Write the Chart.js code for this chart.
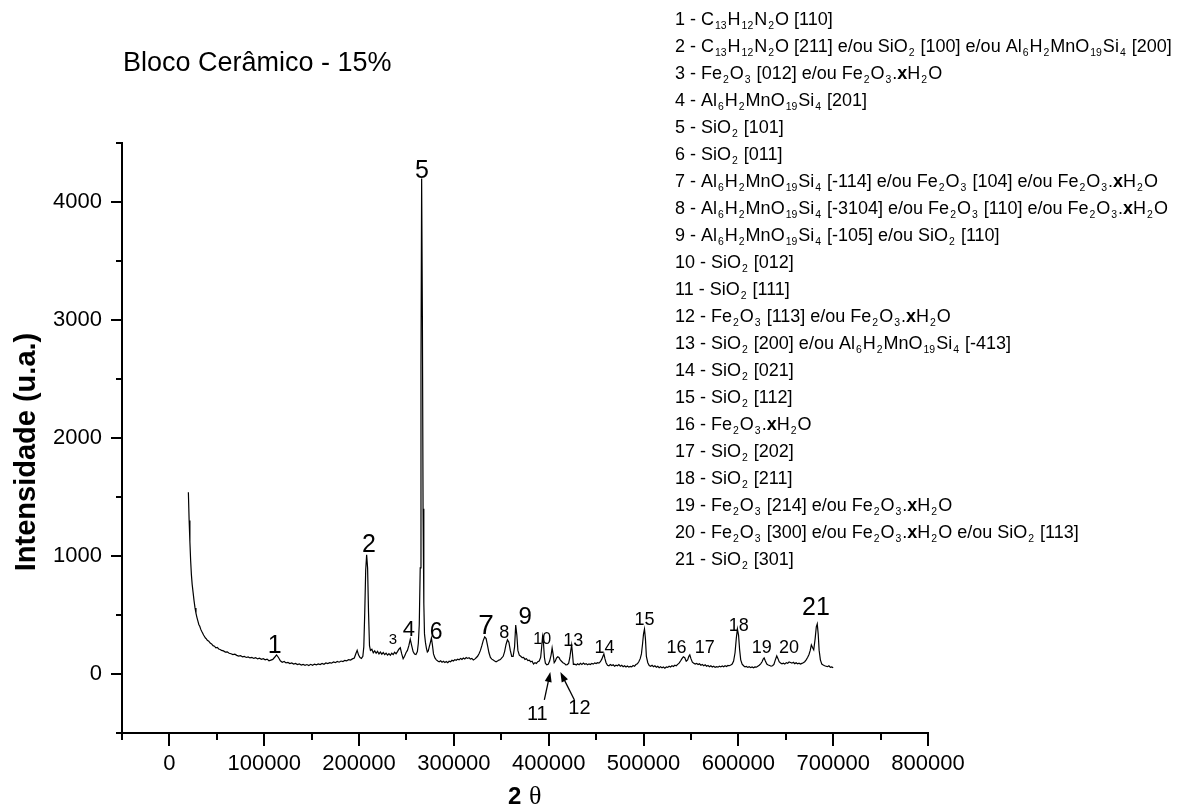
<!DOCTYPE html>
<html><head><meta charset="utf-8">
<script src="https://cdn.jsdelivr.net/npm/chart.js@4.4.1/dist/chart.umd.min.js"></script>
<style>html,body{margin:0;padding:0;background:#fff;}canvas{display:block;}</style>
</head><body>
<canvas id="c" width="1183" height="807" style="width:1183px;height:807px"></canvas>
<script>
const FONT = '"Liberation Sans", Arial, sans-serif';

// ---- axis ticks ----
const xTickValues = [0, 100000, 200000, 300000, 400000, 500000, 600000, 700000, 800000];
const xTickLabels = ['0', '100000', '200000', '300000', '400000', '500000', '600000', '700000', '800000'];
const xMinorTicks = [-50000, 50000, 150000, 250000, 350000, 450000, 550000, 650000, 750000];
const yTickValues = [0, 1000, 2000, 3000, 4000];
const yTickLabels = ['0', '1000', '2000', '3000', '4000'];
const yMinorTicks = [-500, 500, 1500, 2500, 3500, 4500];

// ---- measured pattern: [2θ, intensity] ----
const scan = [
[20000,1540],[20800,1300],[21600,1120],[22400,960],[23200,840],[24000,760],[25000,690],[26000,620],[27000,560],[28000,515],
[29000,480],[30000,450],[31000,420],[32000,405],[33000,380],[34000,362],[35000,348],[36000,330],[37000,318],[38000,305],
[39000,298],[40000,285],[41500,278],[43000,262],[44500,255],[46000,240],[47500,236],[49000,222],[50500,226],[52000,212],
[53500,208],[55000,200],[57000,196],[59000,186],[61000,188],[63000,176],[65000,172],[67000,165],[69000,168],[71000,158],
[73000,152],[75000,156],[77000,146],[79000,150],[81000,140],[83000,144],[85000,136],[87000,140],[89000,132],[91000,138],
[93000,128],[95000,134],[97000,125],[99000,130],[101000,120],[103000,126],[105000,112],[107000,118],[109000,124],[111000,142],
[113000,162],[115000,140],[117000,112],[119000,100],[121000,106],[123000,94],[125000,98],[127000,88],[129000,94],[131000,84],
[133000,90],[135000,80],[137000,86],[139000,76],[141000,82],[143000,74],[145000,80],[147000,72],[149000,82],[151000,74],
[153000,84],[155000,78],[157000,86],[159000,80],[161000,90],[163000,82],[165000,94],[167000,88],[169000,96],[171000,92],
[173000,102],[175000,96],[177000,106],[179000,100],[181000,110],[183000,106],[185000,116],[187000,112],[189000,122],[191000,118],
[193000,128],[195000,136],[196500,170],[198000,200],[199500,160],[201000,140],[202500,132],[204000,150],[205000,230],[206000,520],
[207000,880],[208000,1010],[209000,900],[210000,520],[211000,240],[212000,200],[213500,210],[215000,180],[216500,196],[218000,176],
[219500,192],[221000,170],[222500,186],[224000,168],[225500,182],[227000,164],[228500,176],[230000,160],[231500,172],[233000,158],
[234500,176],[236000,164],[237500,184],[239000,172],[240500,190],[242000,210],[243500,222],[245000,170],[246500,130],[248000,150],
[249500,180],[251000,200],[252500,240],[254000,295],[255500,240],[257000,190],[258500,170],[260000,165],[261500,190],[262500,260],
[263500,420],[264500,900],[265300,2600],[266000,4200],[266800,3000],[267500,1400],[268300,600],[269000,340],[270000,268],[271000,220],
[272000,186],[273000,195],[274000,230],[275000,260],[276300,305],[277300,250],[278500,170],[280000,136],[281500,120],[283000,110],
[284500,104],[286000,112],[287500,100],[289000,108],[290500,98],[292000,106],[293500,96],[295000,108],[296500,104],[298000,116],
[299500,110],[301000,122],[302500,116],[304000,126],[305500,120],[307000,132],[308500,124],[310000,136],[311500,128],[313000,140],
[314500,132],[316000,138],[317500,126],[319000,132],[320500,118],[322000,126],[323500,138],[325000,150],[326500,172],[328000,200],
[329500,240],[331000,285],[332500,315],[334000,300],[335500,240],[337000,180],[338500,140],[340000,126],[341500,118],[343000,110],
[344500,104],[346000,110],[347500,118],[349000,122],[350500,136],[352000,150],[353500,190],[355000,250],[356500,290],[358000,270],
[359500,200],[361000,150],[362500,150],[364000,230],[365200,415],[366400,330],[367500,200],[369000,160],[370500,150],[372000,138],
[373500,140],[375000,124],[376500,130],[378000,114],[379500,118],[381000,104],[382500,108],[384000,84],[385500,96],[387000,90],
[388500,104],[390000,110],[391500,140],[392500,220],[393500,315],[394500,260],[395500,140],[396500,92],[398000,78],[399500,82],
[401000,110],[402500,160],[403600,220],[404600,170],[405800,96],[407000,110],[408200,135],[409500,146],[410800,140],[412000,122],
[413500,108],[415000,96],[416500,90],[418000,78],[419500,80],[421000,90],[422300,140],[423300,200],[424200,246],[425000,180],
[426000,82],[427500,84],[429000,76],[430500,86],[432000,78],[433500,90],[435000,80],[436500,92],[438000,82],[439500,88],
[441000,78],[442500,86],[444000,80],[445500,90],[447000,84],[448500,94],[450000,88],[451500,96],[453000,92],[454500,104],
[456000,126],[457200,150],[458200,170],[459300,130],[460500,96],[462000,74],[463500,70],[465000,80],[466500,72],[468000,78],
[469500,66],[471000,74],[472500,70],[474000,80],[475500,66],[477000,74],[478500,62],[480000,70],[481500,60],[483000,68],
[484500,58],[486000,64],[487500,60],[489000,72],[490500,66],[492000,80],[493500,86],[495000,104],[496500,130],[497800,170],
[498900,250],[500000,340],[501000,381],[502000,300],[503000,150],[504500,96],[506000,72],[507500,66],[509000,74],[510500,62],
[512000,70],[513500,58],[515000,66],[516500,54],[518000,62],[519500,52],[521000,60],[522500,50],[524000,60],[525500,56],
[527000,66],[528500,60],[530000,70],[531500,64],[533000,74],[534500,70],[536000,82],[537500,92],[539000,110],[540500,130],
[542000,146],[543500,138],[545000,108],[546500,120],[547800,150],[548800,162],[550000,130],[551500,100],[553000,92],[554500,84],
[556000,90],[557500,80],[559000,86],[560500,74],[562000,80],[563500,70],[565000,78],[566500,66],[568000,72],[569500,62],
[571000,70],[572500,60],[574000,66],[575500,56],[577000,62],[578500,58],[580000,66],[581500,60],[583000,68],[584500,62],
[586000,70],[587500,64],[589000,72],[590500,70],[592000,76],[593500,84],[595000,110],[596500,180],[597800,300],[599000,381],
[600200,330],[601300,210],[602500,120],[604000,84],[605500,70],[607000,60],[608500,64],[610000,56],[611500,62],[613000,54],
[614500,60],[616000,52],[617500,60],[619000,58],[620500,66],[622000,74],[623500,86],[625000,104],[626200,126],[627200,136],
[628500,110],[630000,84],[631500,76],[633000,72],[634500,66],[636000,70],[637500,82],[639000,120],[640500,153],[641800,130],
[643000,104],[644500,94],[646000,86],[647500,92],[649000,84],[650500,96],[652000,90],[653500,102],[655000,98],[656500,92],
[658000,100],[659500,88],[661000,96],[662500,86],[664000,92],[665500,84],[667000,90],[668500,96],[670000,104],[671500,120],
[673000,140],[674500,165],[675800,200],[677000,246],[678200,225],[679500,205],[681000,300],[682200,400],[683200,424],[684200,340],
[685200,200],[686500,120],[688000,84],[689500,76],[691000,70],[692500,66],[694000,62],[695500,70],[697000,56],[698500,60],
[700000,52]
];

// ---- peak numbering (placed in data units) ----
const peakText  = ['1','2','3','4','5','6','7','8','9','10','11','12','13','14','15','16','17','18','19','20','21'];
const peakX     = [111000,210400,235700,252600,266400,281200,334000,353000,375300,393200,388000,432400,426000,458800,501000,534900,564500,600400,624700,653300,681800];
const peakY     = [254,1110,297,390,4280,364,424,356,500,305,-330,-280,288,229,466,229,229,415,229,229,576];
const peakSize  = [25,25,15,22,25,23,28,18,24,16,20,20,18,18,18,18,18,18,18,18,25];
// arrows for 11 and 12: [tailX, tailY, headX, headY]
const arrows = [[395400,-220,401700,17],[427100,-220,412300,17]];

// ---- legend (phase assignments) ----
const legendLines = [
'1 - C_{13}H_{12}N_{2}O [110]',
'2 - C_{13}H_{12}N_{2}O [211] e/ou SiO_{2} [100] e/ou Al_{6}H_{2}MnO_{19}Si_{4} [200]',
'3 - Fe_{2}O_{3} [012] e/ou Fe_{2}O_{3}.*x*H_{2}O',
'4 - Al_{6}H_{2}MnO_{19}Si_{4} [201]',
'5 - SiO_{2} [101]',
'6 - SiO_{2} [011]',
'7 - Al_{6}H_{2}MnO_{19}Si_{4} [-114] e/ou Fe_{2}O_{3} [104] e/ou Fe_{2}O_{3}.*x*H_{2}O',
'8 - Al_{6}H_{2}MnO_{19}Si_{4} [-3104] e/ou Fe_{2}O_{3} [110] e/ou Fe_{2}O_{3}.*x*H_{2}O',
'9 - Al_{6}H_{2}MnO_{19}Si_{4} [-105] e/ou SiO_{2} [110]',
'10 - SiO_{2} [012]',
'11 - SiO_{2} [111]',
'12 - Fe_{2}O_{3} [113] e/ou Fe_{2}O_{3}.*x*H_{2}O',
'13 - SiO_{2} [200] e/ou Al_{6}H_{2}MnO_{19}Si_{4} [-413]',
'14 - SiO_{2} [021]',
'15 - SiO_{2} [112]',
'16 - Fe_{2}O_{3}.*x*H_{2}O',
'17 - SiO_{2} [202]',
'18 - SiO_{2} [211]',
'19 - Fe_{2}O_{3} [214] e/ou Fe_{2}O_{3}.*x*H_{2}O',
'20 - Fe_{2}O_{3} [300] e/ou Fe_{2}O_{3}.*x*H_{2}O e/ou SiO_{2} [113]',
'21 - SiO_{2} [301]'
];
const chartTitle = 'Bloco Cerâmico - 15%';
const yTitle = 'Intensidade (u.a.)';

function drawRich(ctx, str, x, base, size) {
  const subSize = size * 0.58;
  const re = /_\{([^}]*)\}|\*([^*]*)\*|([^_*]+)/g;
  let m, cx = x;
  ctx.textAlign = 'left';
  ctx.textBaseline = 'alphabetic';
  while ((m = re.exec(str)) !== null) {
    if (m[1] !== undefined) {
      ctx.font = subSize + 'px ' + FONT;
      cx += 1;
      ctx.fillText(m[1], cx, base + size * 0.22);
      cx += ctx.measureText(m[1]).width + 1;
    } else if (m[2] !== undefined) {
      ctx.font = 'bold ' + size + 'px ' + FONT;
      ctx.fillText(m[2], cx, base);
      cx += ctx.measureText(m[2]).width;
    } else {
      ctx.font = size + 'px ' + FONT;
      ctx.fillText(m[3], cx, base);
      cx += ctx.measureText(m[3]).width;
    }
  }
}

const overlay = {
  id: 'overlay',
  afterDraw(chart) {
    const ctx = chart.ctx, xs = chart.scales.x, ys = chart.scales.y, ca = chart.chartArea;
    ctx.save();
    ctx.strokeStyle = '#000';
    ctx.lineWidth = 2;
    ctx.beginPath();
    xTickValues.forEach(v => { const p = Math.round(xs.getPixelForValue(v)); ctx.moveTo(p, ca.bottom); ctx.lineTo(p, ca.bottom + 13); });
    xMinorTicks.forEach(v => { const p = Math.round(xs.getPixelForValue(v)); ctx.moveTo(p, ca.bottom); ctx.lineTo(p, ca.bottom + 7); });
    yTickValues.forEach(v => { const p = Math.round(ys.getPixelForValue(v)); ctx.moveTo(ca.left, p); ctx.lineTo(ca.left - 11, p); });
    yMinorTicks.forEach(v => { const p = Math.round(ys.getPixelForValue(v)); ctx.moveTo(ca.left, p); ctx.lineTo(ca.left - 6, p); });
    ctx.stroke();

    ctx.fillStyle = '#000';
    ctx.textAlign = 'center';
    ctx.textBaseline = 'alphabetic';
    peakText.forEach((t, i) => {
      ctx.font = peakSize[i] + 'px ' + FONT;
      ctx.fillText(t, xs.getPixelForValue(peakX[i]), ys.getPixelForValue(peakY[i]) + peakSize[i] * 0.358);
    });
    ctx.lineWidth = 1.3;
    arrows.forEach(a => {
      const x1 = xs.getPixelForValue(a[0]), y1 = ys.getPixelForValue(a[1]);
      const x2 = xs.getPixelForValue(a[2]), y2 = ys.getPixelForValue(a[3]);
      const ang = Math.atan2(y2 - y1, x2 - x1);
      ctx.beginPath(); ctx.moveTo(x1, y1); ctx.lineTo(x2 - 6 * Math.cos(ang), y2 - 6 * Math.sin(ang)); ctx.stroke();
      ctx.beginPath();
      ctx.moveTo(x2, y2);
      ctx.lineTo(x2 - 10 * Math.cos(ang) + 3.5 * Math.sin(ang), y2 - 10 * Math.sin(ang) - 3.5 * Math.cos(ang));
      ctx.lineTo(x2 - 10 * Math.cos(ang) - 3.5 * Math.sin(ang), y2 - 10 * Math.sin(ang) + 3.5 * Math.cos(ang));
      ctx.closePath(); ctx.fill();
    });
    ctx.textAlign = 'left';
    ctx.font = '27px ' + FONT;
    ctx.fillText(chartTitle, 123, 71);
    ctx.save();
    ctx.translate(35, 452);
    ctx.rotate(-Math.PI / 2);
    ctx.textAlign = 'center';
    ctx.font = 'bold 29px ' + FONT;
    ctx.fillText(yTitle, 0, 0);
    ctx.restore();
    ctx.textAlign = 'left';
    ctx.font = 'bold 24px ' + FONT;
    ctx.fillText('2', 508, 804);
    ctx.font = '26px "Liberation Serif", "DejaVu Serif", serif';
    ctx.fillText('θ', 529, 804);
    legendLines.forEach((s, i) => drawRich(ctx, s, 675, 19 + i * 27 + 18 * 0.358, 18));
    ctx.restore();
  }
};

new Chart(document.getElementById('c'), {
  type: 'scatter',
  data: { datasets: [{
    data: scan.map(p => ({ x: p[0], y: p[1] })),
    showLine: true, borderColor: '#000', borderWidth: 1.2, pointRadius: 0, tension: 0, fill: false
  }] },
  options: {
    responsive: false, animation: false, devicePixelRatio: 1,
    layout: { padding: { left: 0, top: 143, right: 255, bottom: 0 } },
    plugins: { legend: { display: false }, tooltip: { enabled: false } },
    scales: {
      x: {
        type: 'linear', min: -50000, max: 800000,
        afterBuildTicks: s => { s.ticks = xTickValues.map(v => ({ value: v })); },
        afterFit: s => { s.height = 74; },
        ticks: { autoSkip: false, maxRotation: 0, padding: 5, color: '#000', font: { family: FONT, size: 22 },
                 callback: (v, i) => xTickLabels[i] },
        grid: { display: true, drawOnChartArea: false, drawTicks: true, tickLength: 13, color: 'rgba(0,0,0,0)', tickColor: 'rgba(0,0,0,0)' },
        border: { display: true, color: '#000', width: 2 }
      },
      y: {
        type: 'linear', min: -500, max: 4500,
        afterBuildTicks: s => { s.ticks = yTickValues.map(v => ({ value: v })); },
        afterFit: s => { s.width = 122; },
        ticks: { autoSkip: false, padding: 9, color: '#000', font: { family: FONT, size: 22 },
                 callback: (v, i) => yTickLabels[i] },
        grid: { display: true, drawOnChartArea: false, drawTicks: true, tickLength: 11, color: 'rgba(0,0,0,0)', tickColor: 'rgba(0,0,0,0)' },
        border: { display: true, color: '#000', width: 2 }
      }
    }
  },
  plugins: [overlay]
});
</script>
</body></html>
